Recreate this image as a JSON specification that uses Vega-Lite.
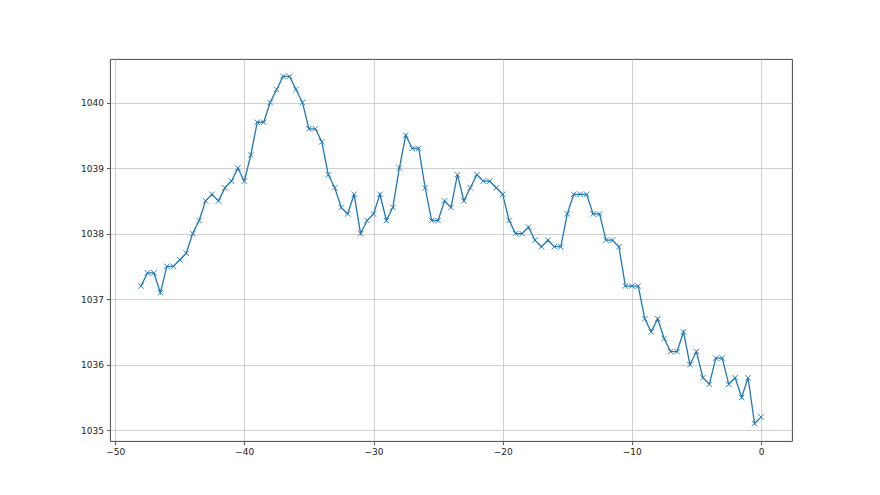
{
  "$schema": "https://vega.github.io/schema/vega-lite/v6.json",
  "autosize": {"type": "none"},
  "width": 682,
  "height": 382,
  "padding": {"left": 110, "top": 59, "right": 88, "bottom": 54},
  "background": "white",
  "config": {
    "view": {"stroke": "#333333", "strokeWidth": 0.9},
    "axis": {
      "labelFont": "DejaVu Sans",
      "labelFontSize": 9,
      "labelColor": "#222222",
      "tickColor": "#333333",
      "tickSize": 3.5,
      "tickWidth": 0.8,
      "domain": false,
      "gridColor": "#c4c4c4",
      "gridWidth": 0.8,
      "gridOpacity": 1,
      "labelPadding": 3,
      "title": null
    }
  },
  "data": {
    "values": [
      {"x": -48, "y": 1037.2}, {"x": -47.5, "y": 1037.4}, {"x": -47, "y": 1037.4}, {"x": -46.5, "y": 1037.1},
      {"x": -46, "y": 1037.5}, {"x": -45.5, "y": 1037.5}, {"x": -45, "y": 1037.6}, {"x": -44.5, "y": 1037.7},
      {"x": -44, "y": 1038.0}, {"x": -43.5, "y": 1038.2}, {"x": -43, "y": 1038.5}, {"x": -42.5, "y": 1038.6},
      {"x": -42, "y": 1038.5}, {"x": -41.5, "y": 1038.7}, {"x": -41, "y": 1038.8}, {"x": -40.5, "y": 1039.0},
      {"x": -40, "y": 1038.8}, {"x": -39.5, "y": 1039.2}, {"x": -39, "y": 1039.7}, {"x": -38.5, "y": 1039.7},
      {"x": -38, "y": 1040.0}, {"x": -37.5, "y": 1040.2}, {"x": -37, "y": 1040.4}, {"x": -36.5, "y": 1040.4},
      {"x": -36, "y": 1040.2}, {"x": -35.5, "y": 1040.0}, {"x": -35, "y": 1039.6}, {"x": -34.5, "y": 1039.6},
      {"x": -34, "y": 1039.4}, {"x": -33.5, "y": 1038.9}, {"x": -33, "y": 1038.7}, {"x": -32.5, "y": 1038.4},
      {"x": -32, "y": 1038.3}, {"x": -31.5, "y": 1038.6}, {"x": -31, "y": 1038.0}, {"x": -30.5, "y": 1038.2},
      {"x": -30, "y": 1038.3}, {"x": -29.5, "y": 1038.6}, {"x": -29, "y": 1038.2}, {"x": -28.5, "y": 1038.4},
      {"x": -28, "y": 1039.0}, {"x": -27.5, "y": 1039.5}, {"x": -27, "y": 1039.3}, {"x": -26.5, "y": 1039.3},
      {"x": -26, "y": 1038.7}, {"x": -25.5, "y": 1038.2}, {"x": -25, "y": 1038.2}, {"x": -24.5, "y": 1038.5},
      {"x": -24, "y": 1038.4}, {"x": -23.5, "y": 1038.9}, {"x": -23, "y": 1038.5}, {"x": -22.5, "y": 1038.7},
      {"x": -22, "y": 1038.9}, {"x": -21.5, "y": 1038.8}, {"x": -21, "y": 1038.8}, {"x": -20.5, "y": 1038.7},
      {"x": -20, "y": 1038.6}, {"x": -19.5, "y": 1038.2}, {"x": -19, "y": 1038.0}, {"x": -18.5, "y": 1038.0},
      {"x": -18, "y": 1038.1}, {"x": -17.5, "y": 1037.9}, {"x": -17, "y": 1037.8}, {"x": -16.5, "y": 1037.9},
      {"x": -16, "y": 1037.8}, {"x": -15.5, "y": 1037.8}, {"x": -15, "y": 1038.3}, {"x": -14.5, "y": 1038.6},
      {"x": -14, "y": 1038.6}, {"x": -13.5, "y": 1038.6}, {"x": -13, "y": 1038.3}, {"x": -12.5, "y": 1038.3},
      {"x": -12, "y": 1037.9}, {"x": -11.5, "y": 1037.9}, {"x": -11, "y": 1037.8}, {"x": -10.5, "y": 1037.2},
      {"x": -10, "y": 1037.2}, {"x": -9.5, "y": 1037.2}, {"x": -9, "y": 1036.7}, {"x": -8.5, "y": 1036.5},
      {"x": -8, "y": 1036.7}, {"x": -7.5, "y": 1036.4}, {"x": -7, "y": 1036.2}, {"x": -6.5, "y": 1036.2},
      {"x": -6, "y": 1036.5}, {"x": -5.5, "y": 1036.0}, {"x": -5, "y": 1036.2}, {"x": -4.5, "y": 1035.8},
      {"x": -4, "y": 1035.7}, {"x": -3.5, "y": 1036.1}, {"x": -3, "y": 1036.1}, {"x": -2.5, "y": 1035.7},
      {"x": -2, "y": 1035.8}, {"x": -1.5, "y": 1035.5}, {"x": -1, "y": 1035.8}, {"x": -0.5, "y": 1035.1},
      {"x": 0, "y": 1035.2}
    ]
  },
  "encoding": {
    "x": {
      "field": "x", "type": "quantitative",
      "scale": {"domain": [-50.4, 2.4], "nice": false, "zero": false},
      "axis": {"values": [-50, -40, -30, -20, -10, 0], "grid": true, "format": "d"}
    },
    "y": {
      "field": "y", "type": "quantitative",
      "scale": {"domain": [1034.835, 1040.665], "nice": false, "zero": false},
      "axis": {"values": [1035, 1036, 1037, 1038, 1039, 1040], "grid": true, "format": "d"}
    }
  },
  "layer": [
    {"mark": {"type": "line", "color": "#1f77b4", "strokeWidth": 1.3}},
    {"mark": {"type": "point", "shape": "M-1,-1L1,1M1,-1L-1,1", "filled": false, "stroke": "#1f77b4", "strokeWidth": 0.9, "size": 30, "opacity": 1}}
  ]
}
